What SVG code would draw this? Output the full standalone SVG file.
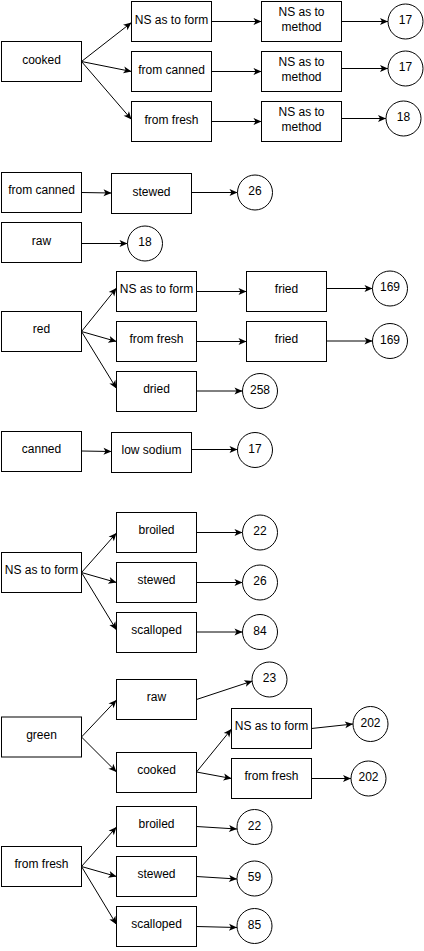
<svg xmlns="http://www.w3.org/2000/svg" width="424" height="951" viewBox="0 0 424 951">
<style>
rect{fill:#fff;stroke:#000;stroke-width:1}
circle{fill:#fff;stroke:#000;stroke-width:1}
text{font-family:"Liberation Sans",Arial,sans-serif;font-size:12px;fill:#000;text-anchor:middle}
#edges line{stroke:#000;stroke-width:1;marker-end:url(#a)}
</style>
<defs>
<marker id="a" markerWidth="10" markerHeight="10" refX="9" refY="5" orient="auto" markerUnits="userSpaceOnUse">
<path d="M1,1.5 L9,5 L1,8.5 L3,5 Z" fill="#000"/>
</marker>
</defs>
<rect x="0" y="0" width="424" height="951" style="stroke:none"/>
<g id="edges">
<line x1="81.5" y1="61.5" x2="131.5" y2="22.5"/>
<line x1="81.5" y1="61.5" x2="131.5" y2="71.5"/>
<line x1="81.5" y1="61.5" x2="131.5" y2="119.5"/>
<line x1="211.5" y1="21.5" x2="261.5" y2="21.5"/>
<line x1="211.5" y1="71.5" x2="261.5" y2="71.5"/>
<line x1="211.5" y1="121.5" x2="261.5" y2="121.5"/>
<line x1="341.5" y1="21.5" x2="388" y2="21.5"/>
<line x1="341.5" y1="68.5" x2="388" y2="68.5"/>
<line x1="339.5" y1="118.5" x2="386" y2="118.5"/>
<line x1="81.5" y1="192.5" x2="111.5" y2="193"/>
<line x1="191.5" y1="192.5" x2="237.5" y2="192.5"/>
<line x1="81.5" y1="243.5" x2="127.5" y2="243.5"/>
<line x1="81.5" y1="331.5" x2="116.5" y2="288"/>
<line x1="81.5" y1="331.5" x2="116.5" y2="341.5"/>
<line x1="81.5" y1="331.5" x2="116.5" y2="388.5"/>
<line x1="196.5" y1="291.5" x2="246.5" y2="291.5"/>
<line x1="196.5" y1="341.5" x2="246.5" y2="341.5"/>
<line x1="326.5" y1="288.5" x2="372.5" y2="288.5"/>
<line x1="326.5" y1="341" x2="372.5" y2="341"/>
<line x1="196.5" y1="391" x2="242.5" y2="391"/>
<line x1="81.5" y1="451" x2="111.5" y2="451.5"/>
<line x1="191.5" y1="449.5" x2="237.5" y2="449.5"/>
<line x1="81.5" y1="572.5" x2="116.5" y2="533"/>
<line x1="81.5" y1="572.5" x2="116.5" y2="582.5"/>
<line x1="81.5" y1="572.5" x2="116.5" y2="630"/>
<line x1="196.5" y1="532.5" x2="242.5" y2="532.5"/>
<line x1="196.5" y1="582.5" x2="242.5" y2="582.5"/>
<line x1="196.5" y1="632" x2="242.5" y2="632"/>
<line x1="81.5" y1="737" x2="116.5" y2="700"/>
<line x1="81.5" y1="737" x2="116.5" y2="772"/>
<line x1="196.5" y1="699.5" x2="252.5" y2="681"/>
<line x1="196.5" y1="772" x2="231.5" y2="729"/>
<line x1="196.5" y1="772" x2="231.5" y2="778.5"/>
<line x1="311.5" y1="728.5" x2="353" y2="724"/>
<line x1="311.5" y1="778.5" x2="351" y2="778.5"/>
<line x1="81.5" y1="866.5" x2="116.5" y2="827"/>
<line x1="81.5" y1="866.5" x2="116.5" y2="876.5"/>
<line x1="81.5" y1="866.5" x2="116.5" y2="924.5"/>
<line x1="196.5" y1="826.5" x2="237" y2="829"/>
<line x1="196.5" y1="876.5" x2="237" y2="879"/>
<line x1="196.5" y1="926.5" x2="237" y2="927.5"/>
</g>
<g id="n1"><rect x="1.5" y="41.5" width="80" height="40"/><text x="41.5" y="64">cooked</text></g>
<g id="n2"><rect x="131.5" y="1.5" width="80" height="40"/><text x="171.5" y="24">NS as to form</text></g>
<g id="n3"><rect x="131.5" y="51.5" width="80" height="40"/><text x="171.5" y="74">from canned</text></g>
<g id="n4"><rect x="131.5" y="101.5" width="80" height="40"/><text x="171.5" y="124">from fresh</text></g>
<g id="n5"><rect x="261.5" y="1.5" width="80" height="40"/><text x="301.5" y="15.5">NS as to</text><text x="301.5" y="30.5">method</text></g>
<g id="n6"><rect x="261.5" y="51.5" width="80" height="40"/><text x="301.5" y="65.5">NS as to</text><text x="301.5" y="80.5">method</text></g>
<g id="n7"><rect x="261.5" y="101.5" width="80" height="40"/><text x="301.5" y="115.5">NS as to</text><text x="301.5" y="130.5">method</text></g>
<g id="c1"><circle cx="405.5" cy="21.5" r="17.5"/><text x="405.5" y="24">17</text></g>
<g id="c2"><circle cx="405.5" cy="68.5" r="17.5"/><text x="405.5" y="71">17</text></g>
<g id="c3"><circle cx="403.5" cy="118.5" r="17.5"/><text x="403.5" y="121">18</text></g>

<g id="n8"><rect x="1.5" y="172.5" width="80" height="40"/><text x="41.5" y="194">from canned</text></g>
<g id="n9"><rect x="111.5" y="173.5" width="80" height="40"/><text x="151.5" y="196">stewed</text></g>
<g id="c4"><circle cx="255" cy="192.5" r="17.5"/><text x="255" y="195">26</text></g>
<g id="n10"><rect x="1.5" y="222.5" width="80" height="40"/><text x="41.5" y="245">raw</text></g>
<g id="c5"><circle cx="145" cy="243.5" r="17.5"/><text x="145" y="246">18</text></g>

<g id="n11"><rect x="1.5" y="311.5" width="80" height="40"/><text x="41.5" y="333">red</text></g>
<g id="n12"><rect x="116.5" y="271.5" width="80" height="40"/><text x="156.5" y="293">NS as to form</text></g>
<g id="n13"><rect x="116.5" y="321.5" width="80" height="40"/><text x="156.5" y="343">from fresh</text></g>
<g id="n14"><rect x="116.5" y="371.5" width="80" height="40"/><text x="156.5" y="393">dried</text></g>
<g id="n15"><rect x="246.5" y="271.5" width="80" height="40"/><text x="286.5" y="293">fried</text></g>
<g id="n16"><rect x="246.5" y="321.5" width="80" height="40"/><text x="286.5" y="343">fried</text></g>
<g id="c6"><circle cx="390" cy="288.5" r="17.5"/><text x="390" y="291">169</text></g>
<g id="c7"><circle cx="390" cy="341" r="17.5"/><text x="390" y="343.5">169</text></g>
<g id="c8"><circle cx="260" cy="391" r="17.5"/><text x="260" y="393.5">258</text></g>

<g id="n17"><rect x="1.5" y="431.5" width="80" height="40"/><text x="41.5" y="453">canned</text></g>
<g id="n18"><rect x="111.5" y="432.5" width="80" height="40"/><text x="151.5" y="454">low sodium</text></g>
<g id="c9"><circle cx="255" cy="450" r="17.5"/><text x="255" y="452.5">17</text></g>

<g id="n19"><rect x="1.5" y="552.5" width="80" height="40"/><text x="41.5" y="574">NS as to form</text></g>
<g id="n20"><rect x="116.5" y="512.5" width="80" height="40"/><text x="156.5" y="534">broiled</text></g>
<g id="n21"><rect x="116.5" y="562.5" width="80" height="40"/><text x="156.5" y="584">stewed</text></g>
<g id="n22"><rect x="116.5" y="612.5" width="80" height="40"/><text x="156.5" y="634">scalloped</text></g>
<g id="c10"><circle cx="260" cy="532.5" r="17.5"/><text x="260" y="535">22</text></g>
<g id="c11"><circle cx="260" cy="582.5" r="17.5"/><text x="260" y="585">26</text></g>
<g id="c12"><circle cx="260" cy="632" r="17.5"/><text x="260" y="634.5">84</text></g>

<g id="n23"><rect x="1.5" y="717" width="80" height="40"/><text x="41.5" y="739">green</text></g>
<g id="n24"><rect x="116.5" y="679.5" width="80" height="40"/><text x="156.5" y="701">raw</text></g>
<g id="n25"><rect x="116.5" y="752.5" width="80" height="40"/><text x="156.5" y="774">cooked</text></g>
<g id="n26"><rect x="231.5" y="708.5" width="80" height="40"/><text x="271.5" y="730">NS as to form</text></g>
<g id="n27"><rect x="231.5" y="758.5" width="80" height="40"/><text x="271.5" y="780">from fresh</text></g>
<g id="c13"><circle cx="269.5" cy="679.5" r="17.5"/><text x="269.5" y="682">23</text></g>
<g id="c14"><circle cx="370.5" cy="724" r="17.5"/><text x="370.5" y="726.5">202</text></g>
<g id="c15"><circle cx="368.5" cy="778.5" r="17.5"/><text x="368.5" y="781">202</text></g>

<g id="n28"><rect x="1.5" y="846.5" width="80" height="40"/><text x="41.5" y="868">from fresh</text></g>
<g id="n29"><rect x="116.5" y="806.5" width="80" height="40"/><text x="156.5" y="828">broiled</text></g>
<g id="n30"><rect x="116.5" y="856.5" width="80" height="40"/><text x="156.5" y="878">stewed</text></g>
<g id="n31"><rect x="116.5" y="906.5" width="80" height="40"/><text x="156.5" y="928">scalloped</text></g>
<g id="c16"><circle cx="254.5" cy="827" r="17.5"/><text x="254.5" y="829.5">22</text></g>
<g id="c17"><circle cx="254.5" cy="878.5" r="17.5"/><text x="254.5" y="881">59</text></g>
<g id="c18"><circle cx="254.5" cy="926" r="17.5"/><text x="254.5" y="928.5">85</text></g>
</svg>
